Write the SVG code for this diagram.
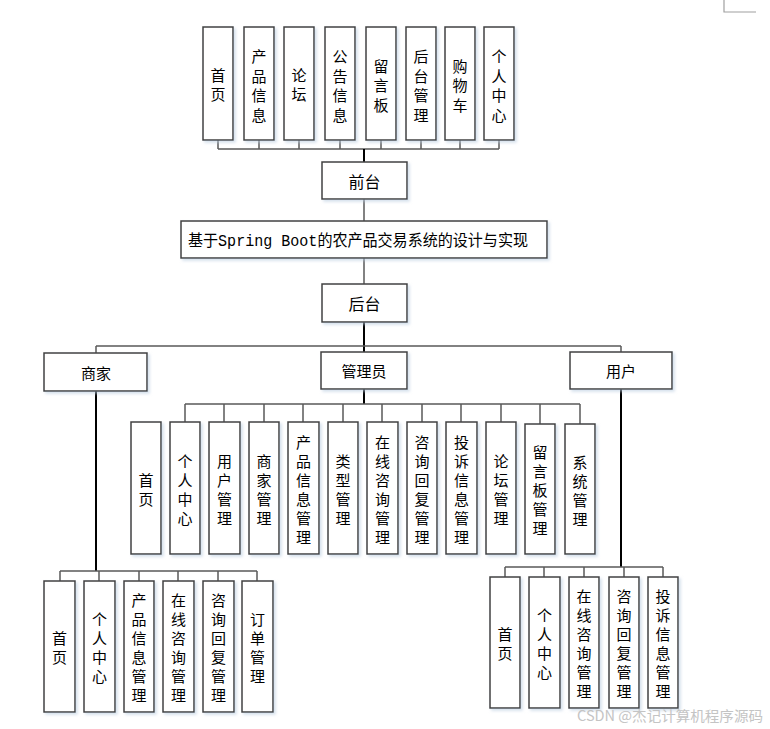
<svg xmlns="http://www.w3.org/2000/svg" width="770" height="729" viewBox="0 0 770 729">
<defs>
<filter id="sh" x="-20%" y="-20%" width="140%" height="140%">
<feDropShadow dx="2" dy="2" stdDeviation="1.5" flood-color="#b8cce0" flood-opacity="0.6"/>
</filter>
</defs>
<style>
.box{fill:#fff;stroke:#404040;stroke-width:1.5;filter:url(#sh)}
.t{font-family:"Noto Sans CJK SC","Liberation Sans",sans-serif;font-size:15px;fill:#000;text-anchor:middle;dominant-baseline:central}
.ln{stroke:#5a5a5a;stroke-width:1.5;fill:none}
.tk{stroke:#000;stroke-width:2;fill:none}
</style>
<rect width="770" height="729" fill="#fff"/>
<path d="M724 0V12H756" stroke="#a0a0a0" stroke-width="1.2" fill="none"/>

<g id="connectors">
<!-- top -->
<path class="ln" d="M218 140V149M259 140V149M299 140V149M340 140V149M381 140V149M421 140V149M460 140V149M499 140V149M218 149H499"/>
<path class="tk" d="M364 149V162"/>
<path class="ln" d="M364 199V221M364 258V284"/>
<path class="tk" d="M364 322V352"/>
<path class="ln" d="M96 346H621M96 346V353M621 346V352"/>
<!-- admin -->
<path class="tk" d="M364 389V404"/>
<path class="ln" d="M185 404H580M185 404V422M224 404V422M264 404V422M303 404V422M343 404V422M382 404V422M422 404V422M461 404V422M501 404V422M540 404V424M580 404V424"/>
<!-- merchant -->
<path class="tk" d="M96 391V571"/>
<path class="ln" d="M60 571H257M60 571V581M99 571V581M139 571V581M178 571V581M218 571V581M257 571V581"/>
<!-- user -->
<path class="tk" d="M621 389V567"/>
<path class="ln" d="M505 567H663M505 567V577M544 567V577M584 567V577M624 567V577M663 567V577"/>
</g>

<!-- top row -->
<g id="n-home"><rect class="box" x="203" y="27" width="30" height="113"/><text class="t" x="218"><tspan x="218" y="74">首</tspan><tspan x="218" y="93">页</tspan></text></g>
<g id="n-product"><rect class="box" x="244" y="27" width="30" height="113"/><text class="t"><tspan x="259" y="55">产</tspan><tspan x="259" y="74.5">品</tspan><tspan x="259" y="94">信</tspan><tspan x="259" y="113.5">息</tspan></text></g>
<g id="n-forum"><rect class="box" x="284" y="27" width="30" height="113"/><text class="t"><tspan x="299" y="74">论</tspan><tspan x="299" y="93">坛</tspan></text></g>
<g id="n-notice"><rect class="box" x="325" y="27" width="30" height="113"/><text class="t"><tspan x="340" y="55">公</tspan><tspan x="340" y="74.5">告</tspan><tspan x="340" y="94">信</tspan><tspan x="340" y="113.5">息</tspan></text></g>
<g id="n-msg"><rect class="box" x="366" y="27" width="30" height="113"/><text class="t"><tspan x="381" y="64.5">留</tspan><tspan x="381" y="84">言</tspan><tspan x="381" y="103.5">板</tspan></text></g>
<g id="n-backend-link"><rect class="box" x="406" y="27" width="30" height="113"/><text class="t"><tspan x="421" y="55">后</tspan><tspan x="421" y="74.5">台</tspan><tspan x="421" y="94">管</tspan><tspan x="421" y="113.5">理</tspan></text></g>
<g id="n-cart"><rect class="box" x="445" y="27" width="30" height="113"/><text class="t"><tspan x="460" y="64.5">购</tspan><tspan x="460" y="84">物</tspan><tspan x="460" y="103.5">车</tspan></text></g>
<g id="n-center"><rect class="box" x="484" y="27" width="30" height="113"/><text class="t"><tspan x="499" y="55">个</tspan><tspan x="499" y="74.5">人</tspan><tspan x="499" y="94">中</tspan><tspan x="499" y="113.5">心</tspan></text></g>

<g id="n-front"><rect class="box" x="322" y="162" width="85" height="37"/><text class="t" x="364.5" y="181" style="font-size:16px">前台</text></g>
<g id="n-title"><rect class="box" x="181" y="221" width="366" height="37"/><text x="188" y="245.5" textLength="340" lengthAdjust="spacingAndGlyphs" style="font-family:'Liberation Mono','Noto Sans CJK SC',monospace;font-size:16px;fill:#000">基于Spring Boot的农产品交易系统的设计与实现</text></g>
<g id="n-back"><rect class="box" x="322" y="284" width="85" height="38"/><text class="t" x="364.5" y="303" style="font-size:16px">后台</text></g>

<g id="n-merchant"><rect class="box" x="44" y="353" width="103" height="38"/><text class="t" x="96" y="372">商家</text></g>
<g id="n-admin"><rect class="box" x="321" y="352" width="86" height="37"/><text class="t" x="364" y="370.5">管理员</text></g>
<g id="n-user"><rect class="box" x="570" y="352" width="102" height="37"/><text class="t" x="621" y="370.5">用户</text></g>

<!-- admin row -->
<g id="a-home"><rect class="box" x="131" y="422" width="30" height="132"/><text class="t"><tspan x="146" y="478.5">首</tspan><tspan x="146" y="497.5">页</tspan></text></g>
<g id="a-center"><rect class="box" x="170" y="422" width="30" height="132"/><text class="t"><tspan x="185" y="459.5">个</tspan><tspan x="185" y="478.5">人</tspan><tspan x="185" y="497.5">中</tspan><tspan x="185" y="516.5">心</tspan></text></g>
<g id="a-user"><rect class="box" x="209" y="422" width="31" height="132"/><text class="t"><tspan x="224.5" y="459.5">用</tspan><tspan x="224.5" y="478.5">户</tspan><tspan x="224.5" y="497.5">管</tspan><tspan x="224.5" y="516.5">理</tspan></text></g>
<g id="a-merchant"><rect class="box" x="249" y="422" width="30" height="132"/><text class="t"><tspan x="264" y="459.5">商</tspan><tspan x="264" y="478.5">家</tspan><tspan x="264" y="497.5">管</tspan><tspan x="264" y="516.5">理</tspan></text></g>
<g id="a-product"><rect class="box" x="288" y="422" width="31" height="132"/><text class="t"><tspan x="303.5" y="440.5">产</tspan><tspan x="303.5" y="459.5">品</tspan><tspan x="303.5" y="478.5">信</tspan><tspan x="303.5" y="497.5">息</tspan><tspan x="303.5" y="516.5">管</tspan><tspan x="303.5" y="535.5">理</tspan></text></g>
<g id="a-type"><rect class="box" x="328" y="422" width="30" height="132"/><text class="t"><tspan x="343" y="459.5">类</tspan><tspan x="343" y="478.5">型</tspan><tspan x="343" y="497.5">管</tspan><tspan x="343" y="516.5">理</tspan></text></g>
<g id="a-consult"><rect class="box" x="367" y="422" width="31" height="132"/><text class="t"><tspan x="382.5" y="440.5">在</tspan><tspan x="382.5" y="459.5">线</tspan><tspan x="382.5" y="478.5">咨</tspan><tspan x="382.5" y="497.5">询</tspan><tspan x="382.5" y="516.5">管</tspan><tspan x="382.5" y="535.5">理</tspan></text></g>
<g id="a-reply"><rect class="box" x="407" y="422" width="30" height="132"/><text class="t"><tspan x="422" y="440.5">咨</tspan><tspan x="422" y="459.5">询</tspan><tspan x="422" y="478.5">回</tspan><tspan x="422" y="497.5">复</tspan><tspan x="422" y="516.5">管</tspan><tspan x="422" y="535.5">理</tspan></text></g>
<g id="a-complaint"><rect class="box" x="446" y="422" width="31" height="132"/><text class="t"><tspan x="461.5" y="440.5">投</tspan><tspan x="461.5" y="459.5">诉</tspan><tspan x="461.5" y="478.5">信</tspan><tspan x="461.5" y="497.5">息</tspan><tspan x="461.5" y="516.5">管</tspan><tspan x="461.5" y="535.5">理</tspan></text></g>
<g id="a-forum"><rect class="box" x="486" y="422" width="30" height="132"/><text class="t"><tspan x="501" y="459.5">论</tspan><tspan x="501" y="478.5">坛</tspan><tspan x="501" y="497.5">管</tspan><tspan x="501" y="516.5">理</tspan></text></g>
<g id="a-msg"><rect class="box" x="525" y="424" width="30" height="130"/><text class="t"><tspan x="540" y="451">留</tspan><tspan x="540" y="470">言</tspan><tspan x="540" y="489">板</tspan><tspan x="540" y="508">管</tspan><tspan x="540" y="527">理</tspan></text></g>
<g id="a-system"><rect class="box" x="565" y="424" width="30" height="130"/><text class="t"><tspan x="580" y="460.5">系</tspan><tspan x="580" y="479.5">统</tspan><tspan x="580" y="498.5">管</tspan><tspan x="580" y="517.5">理</tspan></text></g>

<!-- merchant row -->
<g id="m-home"><rect class="box" x="44" y="581" width="31" height="131"/><text class="t"><tspan x="59.5" y="637">首</tspan><tspan x="59.5" y="656">页</tspan></text></g>
<g id="m-center"><rect class="box" x="84" y="581" width="31" height="131"/><text class="t"><tspan x="99.5" y="618">个</tspan><tspan x="99.5" y="637">人</tspan><tspan x="99.5" y="656">中</tspan><tspan x="99.5" y="675">心</tspan></text></g>
<g id="m-product"><rect class="box" x="124" y="581" width="30" height="131"/><text class="t"><tspan x="139" y="599">产</tspan><tspan x="139" y="618">品</tspan><tspan x="139" y="637">信</tspan><tspan x="139" y="656">息</tspan><tspan x="139" y="675">管</tspan><tspan x="139" y="694">理</tspan></text></g>
<g id="m-consult"><rect class="box" x="163" y="581" width="31" height="131"/><text class="t"><tspan x="178.5" y="599">在</tspan><tspan x="178.5" y="618">线</tspan><tspan x="178.5" y="637">咨</tspan><tspan x="178.5" y="656">询</tspan><tspan x="178.5" y="675">管</tspan><tspan x="178.5" y="694">理</tspan></text></g>
<g id="m-reply"><rect class="box" x="203" y="581" width="31" height="131"/><text class="t"><tspan x="218.5" y="599">咨</tspan><tspan x="218.5" y="618">询</tspan><tspan x="218.5" y="637">回</tspan><tspan x="218.5" y="656">复</tspan><tspan x="218.5" y="675">管</tspan><tspan x="218.5" y="694">理</tspan></text></g>
<g id="m-order"><rect class="box" x="242" y="581" width="31" height="131"/><text class="t"><tspan x="257.5" y="618">订</tspan><tspan x="257.5" y="637">单</tspan><tspan x="257.5" y="656">管</tspan><tspan x="257.5" y="675">理</tspan></text></g>

<!-- user row -->
<g id="u-home"><rect class="box" x="490" y="577" width="30" height="131"/><text class="t"><tspan x="505" y="633">首</tspan><tspan x="505" y="652">页</tspan></text></g>
<g id="u-center"><rect class="box" x="529" y="577" width="31" height="131"/><text class="t"><tspan x="544.5" y="614">个</tspan><tspan x="544.5" y="633">人</tspan><tspan x="544.5" y="652">中</tspan><tspan x="544.5" y="671">心</tspan></text></g>
<g id="u-consult"><rect class="box" x="569" y="577" width="30" height="131"/><text class="t"><tspan x="584" y="595">在</tspan><tspan x="584" y="614">线</tspan><tspan x="584" y="633">咨</tspan><tspan x="584" y="652">询</tspan><tspan x="584" y="671">管</tspan><tspan x="584" y="690">理</tspan></text></g>
<g id="u-reply"><rect class="box" x="609" y="577" width="30" height="131"/><text class="t"><tspan x="624" y="595">咨</tspan><tspan x="624" y="614">询</tspan><tspan x="624" y="633">回</tspan><tspan x="624" y="652">复</tspan><tspan x="624" y="671">管</tspan><tspan x="624" y="690">理</tspan></text></g>
<g id="u-complaint"><rect class="box" x="648" y="577" width="30" height="131"/><text class="t"><tspan x="663" y="595">投</tspan><tspan x="663" y="614">诉</tspan><tspan x="663" y="633">信</tspan><tspan x="663" y="652">息</tspan><tspan x="663" y="671">管</tspan><tspan x="663" y="690">理</tspan></text></g>

<text x="577" y="721" textLength="186" lengthAdjust="spacingAndGlyphs" style="font-family:'Noto Sans CJK SC','Liberation Sans',sans-serif;font-size:14px;fill:#c4c4c4">CSDN @杰记计算机程序源码</text>
</svg>
